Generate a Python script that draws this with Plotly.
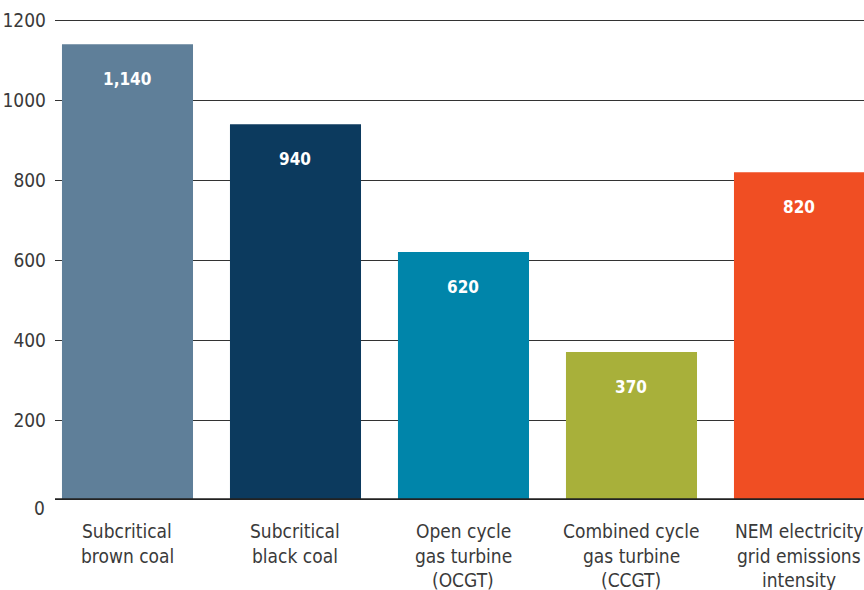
import plotly.graph_objects as go

categories = ["Subcritical<br>brown coal", "Subcritical<br>black coal", "Open cycle<br>gas turbine<br>(OCGT)",
              "Combined cycle<br>gas turbine<br>(CCGT)", "NEM electricity<br>grid emissions<br>intensity"]
values = [1140, 940, 620, 370, 820]
value_labels = ["1,140", "940", "620", "370", "820"]
colors = ["#5f7f99", "#0c3a5e", "#0085aa", "#a8b03a", "#f04e23"]
y_ticks = [0, 200, 400, 600, 800, 1000, 1200]

FONT = "DejaVu Sans Condensed, Roboto, sans-serif"
xs = list(range(len(categories)))

fig = go.Figure()
fig.add_trace(go.Bar(x=xs, y=values, marker=dict(color=colors, line=dict(width=0)),
                     width=0.78, hoverinfo="skip"))

for x, v, t in zip(xs, values, value_labels):
    fig.add_annotation(x=x, y=v, text="<b>%s</b>" % t, showarrow=False, yshift=-35,
                       font=dict(family=FONT, size=17, color="white"))

for x, c in zip(xs, categories):
    for i, line in enumerate(c.split("<br>")):
        fig.add_annotation(x=x, y=0, yref="y", text=line, showarrow=False, yanchor="middle",
                           yshift=-31 - 24.5 * i,
                           font=dict(family=FONT, size=19, color="#3a3a3a"))

# the zero label sits a little below the baseline in the original
fig.add_annotation(x=0, xref="paper", y=y_ticks[0], yref="y", text=str(y_ticks[0]), showarrow=False,
                   xanchor="right", xshift=-8, yshift=-8,
                   font=dict(family=FONT, size=19, color="#3a3a3a"))

fig.update_layout(
    width=864, height=590,
    margin=dict(l=55, r=0, t=19, b=90, autoexpand=False),
    paper_bgcolor="white", plot_bgcolor="white",
    showlegend=False,
    font=dict(family=FONT, size=19, color="#3a3a3a"),
    xaxis=dict(range=[-0.4315, 4.384], showticklabels=False, showgrid=False, zeroline=False,
               fixedrange=True, automargin=False),
    yaxis=dict(range=[0, 1203], tickvals=y_ticks[1:], showgrid=True, gridcolor="#333333", gridwidth=1,
               zeroline=False, ticks="", ticklabelstandoff=8, automargin=False,
               tickfont=dict(family=FONT, size=19, color="#3a3a3a"), layer="below traces"),
    shapes=[dict(type="line", xref="paper", yref="y", x0=0, x1=1, y0=0, y1=0,
                 line=dict(color="#222222", width=3.5))],
)

fig.write_html("out.html", config={"displayModeBar": False, "staticPlot": True},
               post_script="document.body.style.margin='0';document.body.style.overflow='hidden';")
